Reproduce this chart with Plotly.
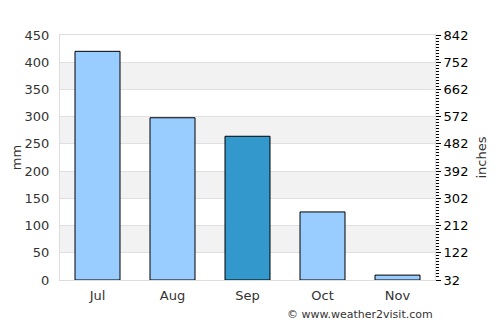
import plotly.graph_objects as go

months = ["Jul", "Aug", "Sep", "Oct", "Nov"]
rain_mm = [420, 298, 264, 125, 9]
bar_colors = ["#99ccff", "#99ccff", "#3399cc", "#99ccff", "#99ccff"]
left_ticks = [0, 50, 100, 150, 200, 250, 300, 350, 400, 450]
right_ticks = [32, 122, 212, 302, 392, 482, 572, 662, 752, 842]

fig = go.Figure()
fig.add_trace(go.Bar(x=months, y=rain_mm, marker=dict(color=bar_colors, line=dict(color="black", width=1)),
                     width=0.6, hoverinfo="skip"))
fig.add_trace(go.Scatter(x=[months[0]], y=[right_ticks[0]], yaxis="y2", mode="markers",
                         marker=dict(opacity=0), showlegend=False, hoverinfo="skip"))

shapes = []
for lo in [50, 150, 250, 350]:
    shapes.append(dict(type="rect", xref="paper", yref="y", x0=0, x1=1, y0=lo, y1=lo + 50,
                       fillcolor="#f2f2f2", line=dict(width=0), layer="below"))

fig.update_layout(
    width=500, height=325,
    margin=dict(l=60, r=65, t=35, b=45),
    paper_bgcolor="white", plot_bgcolor="white",
    showlegend=False,
    font=dict(family="DejaVu Sans", size=13, color="#333333"),
    shapes=shapes,
    xaxis=dict(showgrid=False, showline=True, linecolor="#dddddd", mirror=True, automargin=False,
               ticks="", tickfont=dict(size=13, color="#333333"), ticklabelstandoff=3),
    yaxis=dict(range=[0, 450], tickvals=left_ticks, showgrid=True, gridcolor="#e0e0e0", automargin=False,
               showline=True, linecolor="#dddddd", ticks="", zeroline=False, ticklabelstandoff=7,
               title=dict(text="mm", font=dict(size=13, color="#333333"), standoff=0),
               tickfont=dict(size=13, color="#333333")),
    yaxis2=dict(overlaying="y", side="right", range=[32, 842], tickvals=right_ticks, automargin=False,
                showgrid=False, zeroline=False, showline=True, linecolor="#dddddd",
                ticks="outside", ticklen=5, tickcolor="#000000", tickwidth=1, ticklabelstandoff=0,
                minor=dict(dtick=10, tick0=32, ticks="outside", ticklen=3, tickcolor="#000000", showgrid=False),
                title=dict(text="inches", font=dict(size=13, color="#333333"), standoff=9),
                tickfont=dict(size=13, color="#000000")),
    annotations=[dict(text="© www.weather2visit.com", xref="paper", yref="paper", x=1.0, y=0,
                      xanchor="right", yanchor="top", yshift=-26, showarrow=False,
                      font=dict(size=11, color="#333333"))],
)

fig.write_html("out.html")
